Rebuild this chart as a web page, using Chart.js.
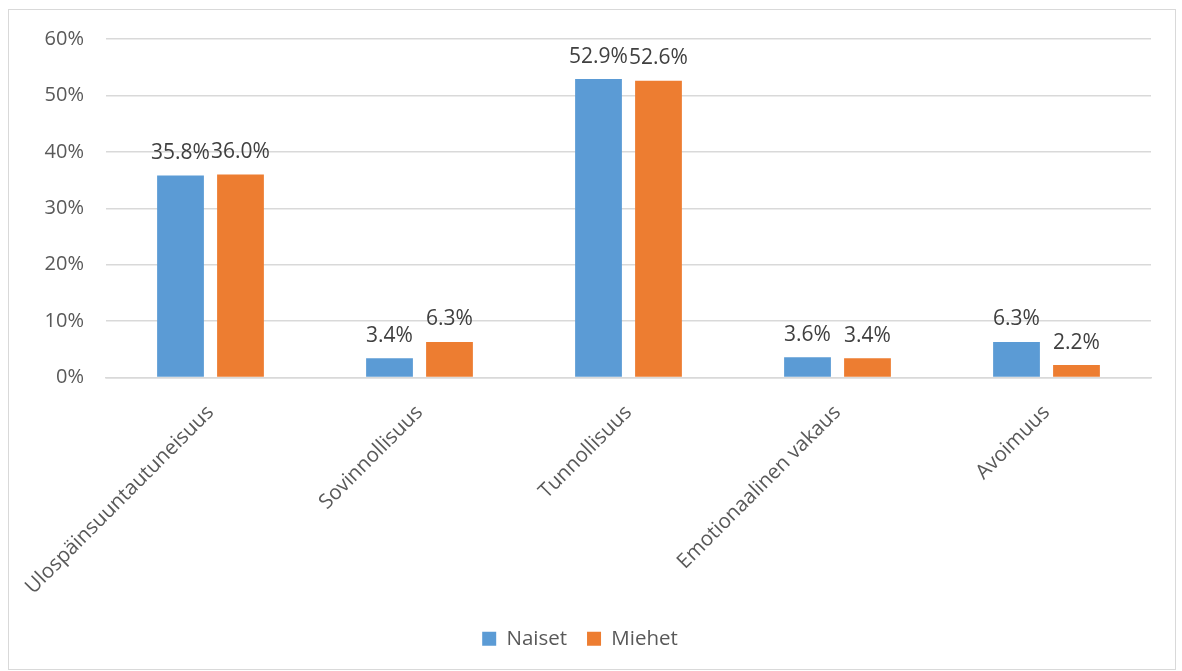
<!DOCTYPE html>
<html>
<head>
<meta charset="utf-8">
<script src="https://cdn.jsdelivr.net/npm/chart.js@4/dist/chart.umd.min.js"></script>
<style>
  html, body { margin: 0; padding: 0; background: #fff; }
  #frame {
    position: absolute; left: 8px; top: 9px;
    width: 1168px; height: 661px;
    border: 1px solid #d9d9d9; box-sizing: border-box;
  }
  #chart { display: block; }
</style>
</head>
<body>
<div id="frame"><canvas id="chart" width="1166" height="659"></canvas></div>
<script>
const categories = [
  "Ulospäinsuuntautuneisuus",
  "Sovinnollisuus",
  "Tunnollisuus",
  "Emotionaalinen vakaus",
  "Avoimuus",
];
const naiset = [35.8, 3.4, 52.9, 3.6, 6.3];
const miehet = [36.0, 6.3, 52.6, 3.4, 2.2];
const seriesNames = ["Naiset", "Miehet"];
const colors = ["#5b9bd5", "#ed7d31"];
const fontFamily = "'Open Sans', 'Noto Sans', sans-serif";

// small replacement for the datalabels plugin (not available offline)
const valueLabels = {
  id: "valueLabels",
  afterDatasetsDraw(chart) {
    const ctx = chart.ctx;
    ctx.save();
    ctx.font = "21px " + fontFamily;
    ctx.fillStyle = "#404040";
    ctx.textAlign = "center";
    ctx.textBaseline = "bottom";
    chart.data.datasets.forEach((ds, i) => {
      chart.getDatasetMeta(i).data.forEach((bar, j) => {
        ctx.fillText(ds.data[j].toFixed(1) + "%", bar.x, bar.y - 12);
      });
    });
    ctx.restore();
  },
};

new Chart(document.getElementById("chart"), {
  type: "bar",
  data: {
    labels: categories,
    datasets: [
      { label: seriesNames[0], data: naiset, backgroundColor: colors[0] },
      { label: seriesNames[1], data: miehet, backgroundColor: colors[1] },
    ],
  },
  options: {
    responsive: false,
    animation: false,
    categoryPercentage: 0.574,
    barPercentage: 0.78,
    layout: { padding: { top: 29, right: 24, bottom: 10, left: 0 } },
    scales: {
      y: {
        min: 0,
        max: 60,
        ticks: {
          stepSize: 10,
          padding: 22,
          color: "#595959",
          font: { size: 20, family: fontFamily },
          callback: (v) => v + "%",
        },
        grid: { color: "#d9d9d9", lineWidth: 1.5, drawTicks: false },
        border: { display: false },
        afterFit: (scale) => {
          scale.width = 97;
          scale.paddingTop = 0;
          scale.paddingBottom = 0;
        },
      },
      x: {
        ticks: {
          minRotation: 45,
          maxRotation: 45,
          padding: 23,
          color: "#595959",
          font: { size: 20.5, family: fontFamily },
        },
        grid: { display: false, drawTicks: false },
        border: { color: "#d9d9d9", width: 1.5 },
        afterFit: (scale) => {
          scale.height = 231;
          scale.paddingLeft = 0;
          scale.paddingRight = 0;
        },
      },
    },
    plugins: {
      legend: {
        position: "bottom",
        labels: {
          boxWidth: 14,
          boxHeight: 14,
          padding: 20,
          color: "#595959",
          font: { size: 20.5, family: fontFamily },
        },
      },
      tooltip: { enabled: false },
    },
  },
  plugins: [valueLabels],
});
</script>
</body>
</html>
